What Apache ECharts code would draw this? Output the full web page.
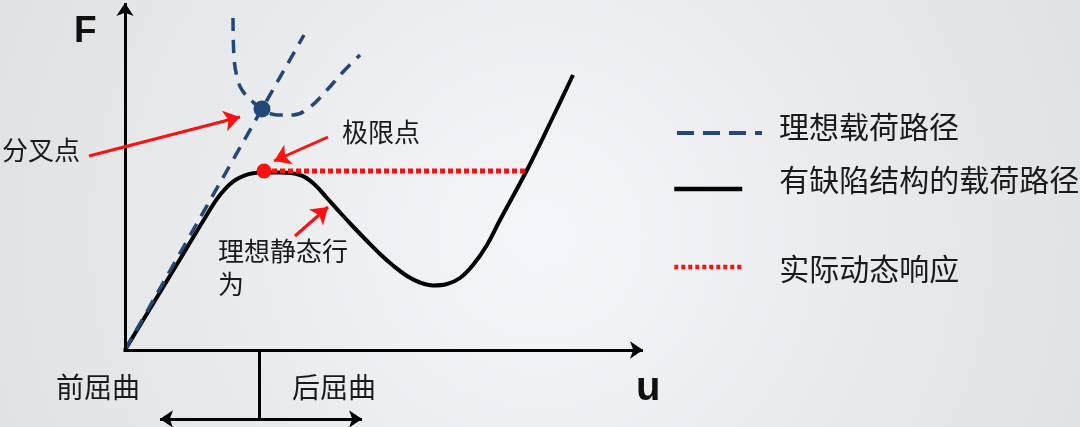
<!DOCTYPE html>
<html>
<head>
<meta charset="utf-8">
<script src="https://cdn.jsdelivr.net/npm/echarts@6/dist/echarts.min.js"></script>
<style>
  html, body { margin: 0; padding: 0; }
  #chart { width: 1080px; height: 427px; }
</style>
</head>
<body>
<div id="chart"></div>
<script>
// load path of the imperfect structure, [u, F]
var defectPath = [
  [0, 0], [0.6, 0.99], [1.2, 1.98], [1.6, 2.64], [1.9, 3.1], [2.24, 3.42],
  [2.7, 3.55], [3.1, 3.55], [3.5, 3.5], [3.76, 3.34], [4.04, 3.04], [4.3, 2.75],
  [4.56, 2.47], [4.84, 2.18], [5.1, 1.92], [5.36, 1.69], [5.64, 1.48], [5.9, 1.35],
  [6.16, 1.29], [6.44, 1.32], [6.7, 1.44], [6.96, 1.7], [7.24, 2.1], [7.5, 2.6],
  [8.04, 3.6], [8.56, 4.66], [8.96, 5.5]
]
// ideal load path: primary (straight) branch and secondary branch
var idealPrimary = [[0, 0], [3.58, 6.3]]
var idealSecondary = [
  [2.16, 6.64], [2.18, 5.86], [2.24, 5.46], [2.34, 5.2], [2.56, 4.96],
  [2.74, 4.82], [3.04, 4.7], [3.36, 4.7], [3.7, 4.86], [4.04, 5.2],
  [4.36, 5.56], [4.7, 5.9]
]
var bifurcationPoint = [2.74, 4.82]
var limitPoint = [2.78, 3.58]
var dynamicJump = [[2.78, 3.58], [8.06, 3.58]]

// axes and buckling divider
var uAxisEnd = 10.36
var fAxisEnd = 6.94
var dividerU = 2.68
var dividerBottom = -1.38
var dividerSpan = [0.7, 4.74]

// annotation arrows [from, to]
var arrows = [
  [[-0.72, 3.88], [2.3, 4.66]],
  [[4.06, 4.26], [2.98, 3.78]],
  [[3.4, 2.28], [4.06, 2.86]]
]

var seriesNames = ['理想载荷路径', '有缺陷结构的载荷路径', '实际动态响应']

var cjk = '"Noto Sans CJK SC", sans-serif'
var blue = '#234878'
var red = '#ff1010'

function seg(a, b) {
  return [{ coord: a }, { coord: b }]
}

var myChart = echarts.init(document.getElementById('chart'))

function legendFor(name, left, top, width, pad, lineStyle) {
  return {
    data: [name],
    left: left,
    top: top,
    padding: 0,
    itemWidth: width,
    itemHeight: 14,
    selectedMode: false,
    itemStyle: { opacity: 0 },
    lineStyle: lineStyle,
    formatter: '{t|{name}}',
    textStyle: {
      color: '#1a1a1a',
      rich: { t: { fontSize: 30, fontFamily: cjk, color: '#1a1a1a', padding: pad } }
    }
  }
}

var option = {
  animation: false,
  backgroundColor: {
    type: 'radial', x: 0.5, y: 0.55, r: 1.3,
    colorStops: [{ offset: 0, color: '#f4f6f9' }, { offset: 1, color: '#e1e2e4' }]
  },
  grid: { left: 0, right: 0, top: 0, bottom: 0 },
  xAxis: { type: 'value', min: -2.5, max: 19.1, show: false },
  yAxis: { type: 'value', min: -1.54, max: 7, show: false },
  legend: [
    legendFor(seriesNames[0], 675, 112, 85, [0, 0, 12, 12], { type: [17, 9], width: 4 }),
    legendFor(seriesNames[1], 672, 165, 68, [0, 0, 18, 32], { width: 4.5 }),
    legendFor(seriesNames[2], 672, 254, 68, [4, 0, 0, 32], { width: 4.5, type: [4, 3] })
  ],
  graphic: [
    { type: 'text', style: { text: 'F', x: 74, y: 32, font: 'bold 37px "Liberation Sans", Arial', fill: '#111', verticalAlign: 'middle' } },
    { type: 'text', style: { text: 'u', x: 636, y: 389, font: 'bold 40px "Liberation Sans", Arial', fill: '#111', verticalAlign: 'middle' } },
    { type: 'text', style: { text: '分叉点', x: 2, y: 150, font: '26px ' + cjk, fill: '#1a1a1a', verticalAlign: 'middle' } },
    { type: 'text', style: { text: '极限点', x: 342, y: 132, font: '26px ' + cjk, fill: '#1a1a1a', verticalAlign: 'middle' } },
    { type: 'text', style: { text: '理想静态行\n为', x: 218, y: 268, lineHeight: 33, font: '26px ' + cjk, fill: '#1a1a1a', verticalAlign: 'middle' } },
    { type: 'text', style: { text: '前屈曲', x: 56, y: 387, font: '28px ' + cjk, fill: '#1a1a1a', verticalAlign: 'middle' } },
    { type: 'text', style: { text: '后屈曲', x: 292, y: 387, font: '28px ' + cjk, fill: '#1a1a1a', verticalAlign: 'middle' } }
  ],
  series: [
    {
      name: seriesNames[1],
      type: 'line',
      data: defectPath,
      smooth: 0.4,
      symbol: 'none',
      silent: true,
      z: 2,
      lineStyle: { color: '#000', width: 4 },
      itemStyle: { color: '#000' },
      markLine: {
        symbol: ['none', 'arrow'],
        symbolSize: 13,
        label: { show: false },
        lineStyle: { color: '#000', width: 3, type: 'solid' },
        data: [
          seg([0, -0.03], [0, fAxisEnd]),
          seg([-0.03, 0], [uAxisEnd, 0]),
          [{ coord: [dividerU, 0], symbol: 'none' }, { coord: [dividerU, dividerBottom], symbol: 'none' }]
        ]
      }
    },
    {
      name: seriesNames[0],
      type: 'line',
      data: idealPrimary,
      symbol: 'none',
      silent: true,
      z: 3,
      lineStyle: { color: blue, width: 3.5, type: [13, 9] },
      itemStyle: { color: blue }
    },
    {
      name: seriesNames[0],
      type: 'line',
      data: idealSecondary,
      smooth: 0.4,
      symbol: 'none',
      silent: true,
      z: 3,
      lineStyle: { color: blue, width: 3.5, type: [13, 9] },
      itemStyle: { color: blue }
    },
    {
      name: seriesNames[2],
      type: 'line',
      data: dynamicJump,
      symbol: 'none',
      silent: true,
      z: 4,
      lineStyle: { color: red, width: 5, type: [5, 3] },
      itemStyle: { color: red }
    },
    {
      name: 'bifurcation',
      type: 'scatter',
      data: [bifurcationPoint],
      symbolSize: 17,
      silent: true,
      z: 5,
      itemStyle: { color: blue, opacity: 1 },
      markLine: {
        symbol: ['arrow', 'arrow'],
        symbolSize: 13,
        label: { show: false },
        lineStyle: { color: '#000', width: 3, type: 'solid' },
        data: [seg([dividerSpan[0], dividerBottom], [dividerSpan[1], dividerBottom])]
      }
    },
    {
      name: 'limit',
      type: 'scatter',
      data: [limitPoint],
      symbolSize: 15,
      silent: true,
      z: 5,
      itemStyle: { color: red, opacity: 1 },
      markLine: {
        symbol: ['none', 'arrow'],
        symbolSize: 16,
        label: { show: false },
        lineStyle: { color: red, width: 3, type: 'solid' },
        data: arrows.map(function (a) { return seg(a[0], a[1]) })
      }
    }
  ]
}

myChart.setOption(option)
</script>
</body>
</html>
